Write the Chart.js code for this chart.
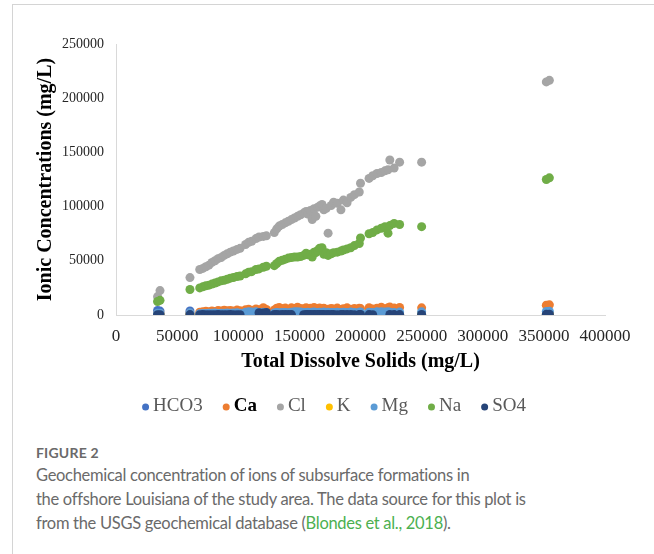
<!DOCTYPE html>
<html>
<head>
<meta charset="utf-8">
<script src="https://cdn.jsdelivr.net/npm/chart.js@4"></script>
<style>
  html, body { margin: 0; padding: 0; background: #fff; }
  body { width: 654px; height: 554px; position: relative; overflow: hidden; }
  .frame-top { position: absolute; left: 12px; top: 4px; width: 642px; height: 1px; background: #d4d4d4; }
  .frame-left { position: absolute; left: 12px; top: 4px; width: 1px; height: 550px; background: #d4d4d4; }
  #wrap { position: absolute; left: 0; top: 0; width: 654px; height: 430px; }
  .caption { position: absolute; left: 36px; top: 443px; font-family: Lato, "Open Sans", sans-serif; color: #6a6a6a; white-space: nowrap; }
  .caption .fig { font-size: 14px; font-weight: 700; letter-spacing: 0.2px; line-height: 20px; }
  .caption .txt { font-size: 16.5px; letter-spacing: -0.3px; line-height: 24px; }
  .caption a { color: #4cb050; text-decoration: none; }
</style>
</head>
<body>
<div class="frame-top"></div>
<div class="frame-left"></div>
<div id="wrap"><canvas id="c"></canvas></div>
<div class="caption">
  <div class="fig">FIGURE 2</div>
  <div class="txt">Geochemical concentration of ions of subsurface formations in<br>the offshore Louisiana of the study area. The data source for this plot is<br>from the USGS geochemical database (<a>Blondes et al., 2018</a>).</div>
</div>
<script>
// Total dissolved solids of each sample (mg/L)
const tds = [
  34000, 36000, 60500, 68500, 71000, 73500, 76000, 78500, 81000, 83500,
  86000, 88500, 91000, 93500, 96000, 99000, 101500, 106000, 108500, 111000,
  114500, 117000, 120500, 123000, 129500, 131500, 133500, 136000, 138500, 141000,
  143500, 146000, 148500, 151000, 153500, 155500, 157000, 159000, 160500, 162000,
  163500, 165000, 166500, 168500, 170000, 172000, 173500, 176000, 178000, 181000,
  184000, 186000, 189000, 192000, 195000, 199000, 200000, 207000, 210000, 213500,
  217000, 220000, 222500, 224000, 227500, 232000, 250000, 352000, 354500
];

// Ion concentrations per sample (mg/L); null = not reported
const hco3 = [
  4200, 3600, 3800, 700, 650, 800, 600, 750, 550, 680,
  620, 700, 580, 640, 520, 600, 560, 480, 530, 450,
  500, 420, 470, 390, 440, 410, 380, 460, 350, 400,
  370, 430, 340, 390, 360, 320, 380, 300, 350, 330,
  310, 360, 290, 340, 300, 320, 280, 310, 270, 300,
  260, 290, 250, 280, 240, 270, 230, 260, 220, 250,
  210, 240, 200, 230, 190, 220, 200, 180, 170
];
const ca = [
  1200, 1400, 1600, 2600, 3000, 3400, 2900, 3800, 3300, 4100,
  3600, 4400, 3900, 4200, 3700, 4500, 4000, 4800, 5200, 4300,
  5600, 4900, 6800, 5100, 4700, 6200, 7000, 5800, 6400, 5300,
  6600, 5900, 7200, 6100, 5500, 6700, 5200, 6300, 5800, 6900,
  5400, 6000, 6500, 5700, 6200, 4900, 5300, 6100, 5600, 6400,
  5000, 5800, 6600, 5400, 6000, 6300, 5900, 6700, 5500, 6200,
  7100, 5800, 6600, 7300, 6400, 7000, 6600, 9100, 9400
];
const cl = [
  17000, 22500, 34500, 42000, 43000, 44500, 46000, 48500, 50000, 52000,
  53000, 55000, 56500, 58000, 59000, 60500, 61500, 65000, 67000, 68000,
  70500, 72000, 72500, 73000, 76000, 79500, 82000, 83500, 85000, 86500,
  88000, 89500, 91000, 92500, 94000, 95500, 93000, 96500, 88000, 98000,
  91000, 99500, 100500, 102000, 97000, 98500, 75500, 101000, 104000, 103000,
  97000, 106000, 103500, 108500, 111000, 113500, 121500, 126000, 128500, 130500,
  131500, 133000, 134000, 143000, 135500, 141000, 141000, 215000, 216500
];
const k = [
  400, 450, 500, 300, 350, 420, 380, 330, 460, 390,
  410, 370, 440, 350, 480, 400, 430, 520, 470, 500,
  560, 490, 610, 530, 450, 580, 540, 600, 510, 570,
  620, 550, 590, 640, 520, 600, 570, 630, 540, 680,
  590, 650, 610, 700, 560, 620, 580, 660, 610, 690,
  640, 600, 720, 650, 700, 670, 760, 720, 680, 790,
  740, 810, 770, 850, 800, 830, 880, 1100, 1150
];
const mg = [
  1500, 1700, 2000, 1200, 1400, 1300, 1600, 1500, 1800, 1400,
  1700, 1500, 1900, 1600, 1800, 2000, 1700, 2600, 3000, 2800,
  2900, 2200, 2500, 2100, 1900, 2300, 2000, 2400, 2200, 2100,
  2500, 2900, 3100, 2700, 2400, 2200, 2600, 2300, 2500, 2800,
  2400, 2100, 2600, 2300, 2700, 2000, 2500, 2200, 2400, 2600,
  2300, 2500, 2200, 2700, 2400, 2600, 2800, 2500, 2300, 2900,
  3100, 2800, 3000, 2600, 2400, 2700, 2900, 3200, 3400
];
const na = [
  12500, 13500, 23500, 25000, 26000, 27000, 27500, 28500, 29500, 30500,
  31500, 32000, 33000, 34000, 34500, 35500, 36000, 38000, 39500, 40000,
  42000, 42500, 44000, 45000, 45500, 47500, 49500, 50500, 51500, 52500,
  53000, 53500, 53500, 54000, 55000, 57000, 55500, 56000, 53500, 58000,
  57500, 59500, 61500, 62000, 56000, 57500, 55000, 56500, 57500, 58000,
  59000, 60000, 61000, 62000, 64000, 66000, 71000, 75000, 76000, 78500,
  80000, 81500, 75500, 82500, 84500, 83500, 81500, 125000, 126500
];
const so4 = [
  300, 250, 400, 200, 350, 150, 300, 250, 200, 350,
  300, 150, 250, 400, 200, 300, 250, null, null, null,
  null, 2100, 1900, 2300, 500, 400, 300, 450, 350, 500,
  400, null, null, null, 300, 450, 350, 500, 250, 400,
  300, 450, 350, 400, 500, 300, 350, 450, 400, 300,
  350, 500, 400, 450, 300, 350, 500, 400, 300, null,
  null, null, null, 450, 350, 400, 500, 600, 700
];

const ionNames = ['HCO3', 'Ca', 'Cl', 'K', 'Mg', 'Na', 'SO4'];
const ionValues = [hco3, ca, cl, k, mg, na, so4];
const ionColors = ['#4472C4', '#ED7D31', '#A5A5A5', '#FFC000', '#5B9BD5', '#70AD47', '#264478'];

const xTicks = [0, 50000, 100000, 150000, 200000, 250000, 300000, 350000, 400000];
const yTicks = [0, 50000, 100000, 150000, 200000, 250000];

const serif = '"Liberation Serif", "Times New Roman", serif';

const datasets = ionNames.map((name, i) => ({
  label: name,
  data: tds.map((x, j) => ({ x: x, y: ionValues[i][j] })).filter(p => p.y !== null),
  backgroundColor: ionColors[i],
  borderColor: ionColors[i],
  borderWidth: 0,
  pointRadius: 4.5,
  pointHoverRadius: 4.5,
  // later ions are painted over earlier ones
  order: ionNames.length - i
}));

// Compact single-row legend: small dot, tight gap, centred under the card
const inlineLegend = {
  id: 'inlineLegend',
  afterDraw(chart) {
    const ctx = chart.ctx;
    const size = 19, dotR = 3.5, dotGap = 7.5, itemGap = 20;
    const cy = 406;
    const items = chart.data.datasets.map(ds => {
      const bold = ds.label === 'Ca';
      const font = (bold ? 'bold ' : '') + size + 'px ' + serif;
      ctx.save();
      ctx.font = font;
      const w = ctx.measureText(ds.label).width;
      ctx.restore();
      return { text: ds.label, color: ds.backgroundColor, font, w, textColor: bold ? '#000' : '#595959' };
    });
    const total = items.reduce((s, it) => s + dotR + dotGap + it.w, 0) + itemGap * (items.length - 1);
    let x = 334 - total / 2;
    ctx.save();
    ctx.textBaseline = 'middle';
    ctx.textAlign = 'left';
    items.forEach(it => {
      ctx.fillStyle = it.color;
      ctx.beginPath();
      ctx.arc(x + dotR, cy + 1, dotR, 0, Math.PI * 2);
      ctx.fill();
      const tx = x + dotR + dotGap;
      ctx.font = it.font;
      ctx.fillStyle = it.textColor;
      ctx.fillText(it.text, tx, cy);
      x = tx + it.w + itemGap;
    });
    ctx.restore();
  }
};

new Chart(document.getElementById('c'), {
  type: 'scatter',
  data: { datasets },
  plugins: [inlineLegend],
  options: {
    responsive: true,
    maintainAspectRatio: false,
    animation: false,
    events: [],
    layout: { padding: { left: 30, right: 49, top: 44, bottom: 48 } },
    scales: {
      x: {
        type: 'linear',
        min: xTicks[0],
        max: xTicks[xTicks.length - 1],
        afterBuildTicks: s => { s.ticks = xTicks.map(v => ({ value: v })); },
        afterFit: s => { s.height = 67; },
        grid: { display: false, drawTicks: false },
        border: { display: true, color: '#d9d9d9', width: 1 },
        ticks: { color: '#262626', font: { family: serif, size: 17 }, padding: 11, maxRotation: 0, callback: v => String(v) },
        title: {
          display: true,
          text: 'Total Dissolve Solids (mg/L)',
          color: '#000',
          font: { family: serif, size: 20, weight: 'bold' },
          padding: { top: 4, bottom: 8 }
        }
      },
      y: {
        type: 'linear',
        min: yTicks[0],
        max: yTicks[yTicks.length - 1],
        afterBuildTicks: s => { s.ticks = yTicks.map(v => ({ value: v })); },
        afterFit: s => { s.width = 116 - 30; },
        grid: { display: false, drawTicks: false },
        border: { display: true, color: '#d9d9d9', width: 1 },
        ticks: { color: '#262626', font: { family: serif, size: 14 }, padding: 12, callback: v => String(v) },
        title: {
          display: true,
          text: 'Ionic Concentrations (mg/L)',
          color: '#000',
          font: { family: serif, size: 20, weight: 'bold' },
          padding: { top: 4, bottom: 4 }
        }
      }
    },
    plugins: {
      tooltip: { enabled: false },
      legend: { display: false }
    }
  }
});
</script>
</body>
</html>
